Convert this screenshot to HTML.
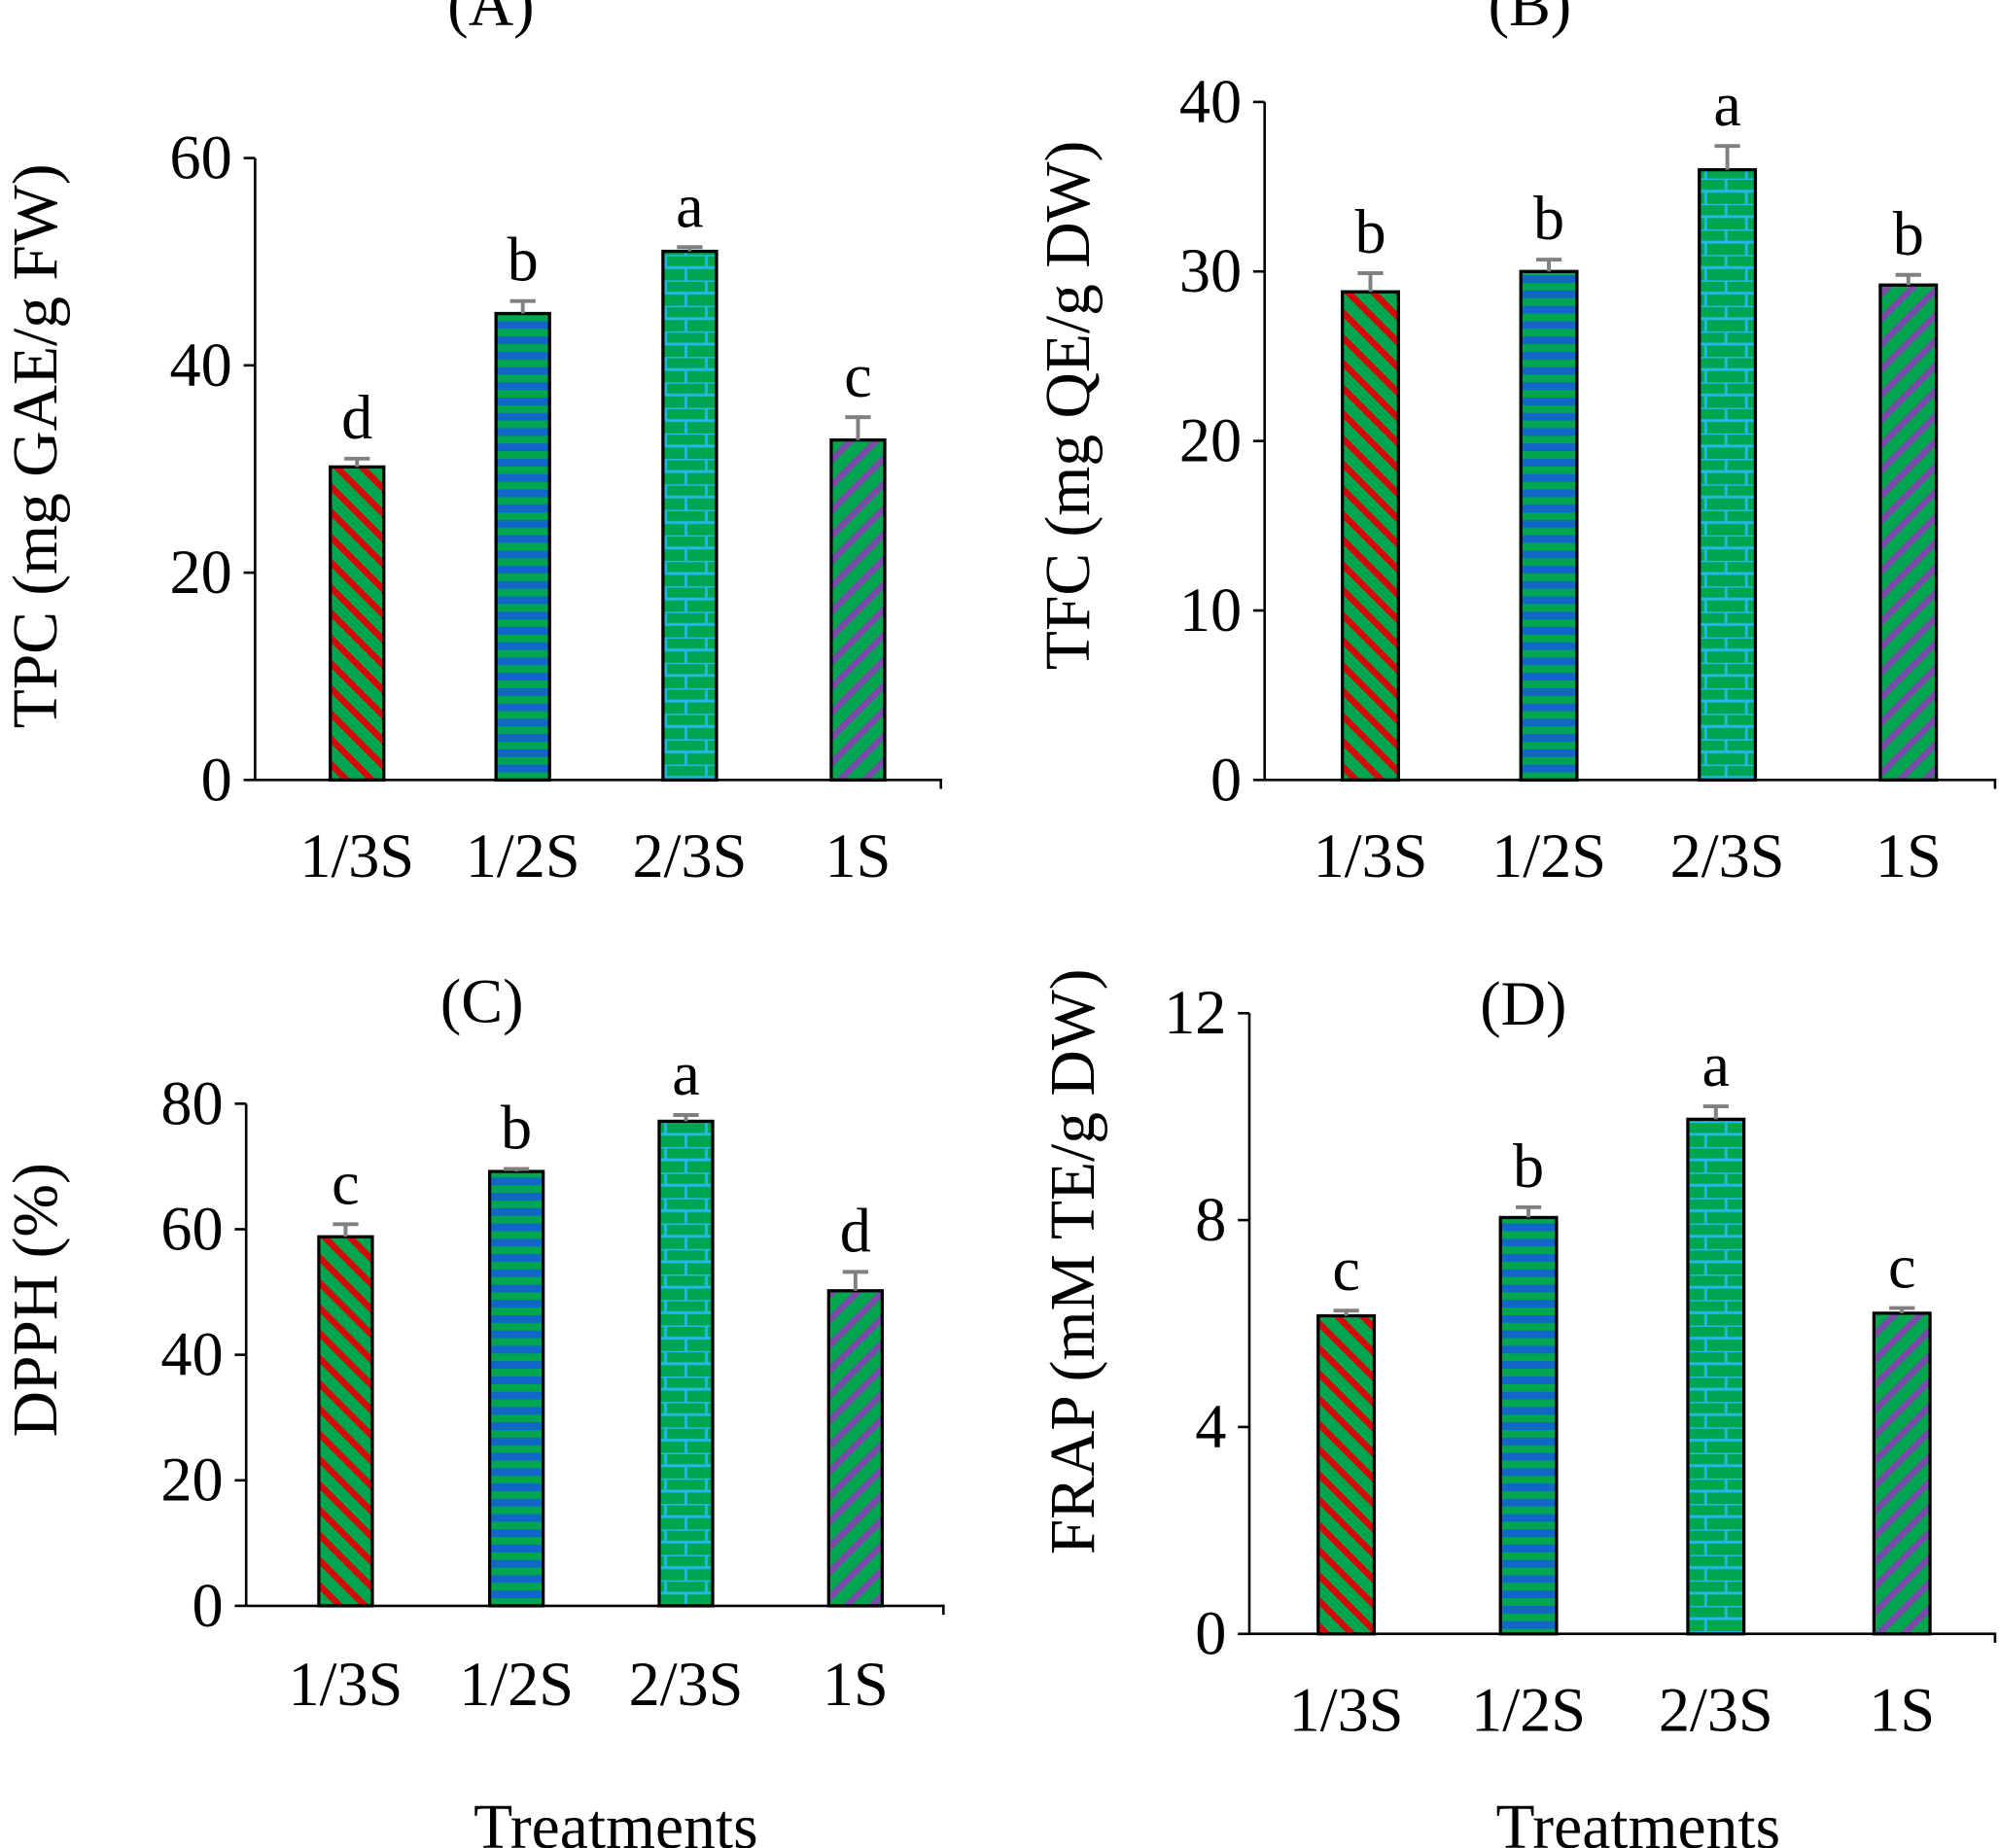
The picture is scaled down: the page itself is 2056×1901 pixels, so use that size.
<!DOCTYPE html>
<html><head><meta charset="utf-8"><style>html,body{margin:0;padding:0;background:#fff}svg{display:block}text{font-family:"Liberation Serif",serif;fill:#000}</style></head>
<body>
<svg id="fig" width="2056" height="1901" viewBox="0 0 1568 1450" xmlns="http://www.w3.org/2000/svg">
<defs>
<pattern id="pRed" patternUnits="userSpaceOnUse" width="14" height="14" patternTransform="rotate(45)"><rect width="14" height="14" fill="#00a64f"/><rect width="14" height="5" fill="#d40a0a"/></pattern>
<pattern id="pBlue" patternUnits="userSpaceOnUse" width="12" height="12"><rect width="12" height="12" fill="#00a64f"/><rect y="0" width="12" height="6" fill="#1166c8"/></pattern>
<pattern id="pBrick" patternUnits="userSpaceOnUse" width="32" height="20"><rect width="32" height="20" fill="#00a64f"/><path d="M0 0H32M0 10H32M10 0V10M26 10V20" stroke="#22b8e8" stroke-width="2.2"/></pattern>
<pattern id="pPurple" patternUnits="userSpaceOnUse" width="14" height="14" patternTransform="rotate(-45)"><rect width="14" height="14" fill="#00a64f"/><rect width="14" height="5" fill="#7a4aa8"/></pattern>
</defs>
</svg>
<script>
const categories = ["1/3S","1/2S","2/3S","1S"];
const tpcValues = [30.2, 45.0, 51.0, 32.8];
const tpcErrors = [0.8, 1.2, 0.4, 2.2];
const tpcLetters = ["d","b","a","c"];
const tpcTicks = [0,20,40,60];
const tfcValues = [28.8, 30.0, 36.0, 29.2];
const tfcErrors = [1.1, 0.7, 1.4, 0.6];
const tfcLetters = ["b","b","a","b"];
const tfcTicks = [0,10,20,30,40];
const dpphValues = [58.8, 69.2, 77.2, 50.2];
const dpphErrors = [2.0, 0.4, 1.0, 3.0];
const dpphLetters = ["c","b","a","d"];
const dpphTicks = [0,20,40,60,80];
const frapValues = [6.15, 8.05, 9.95, 6.2];
const frapErrors = [0.1, 0.2, 0.25, 0.1];
const frapLetters = ["c","b","a","c"];
const frapTicks = [0,4,8,12];

const NS="http://www.w3.org/2000/svg";
const svg=document.getElementById('fig');
const fills=["url(#pRed)","url(#pBlue)","url(#pBrick)","url(#pPurple)"];
function mk(tag,attrs,parent){const e=document.createElementNS(NS,tag);for(const k in attrs)e.setAttribute(k,attrs[k]);(parent||svg).appendChild(e);return e;}

function panel(o){
  const g=mk('g',{});
  
  
  const ymax=o.ticks[o.ticks.length-1];
  const y=v=>o.y0-(v/ymax)*(o.y0-o.ytop);
  const ax=mk('path',{d:`M${o.ax} ${o.y0}V${o.ytop}M${o.ax} ${o.y0}H${o.xend}V${o.y0+7}`,stroke:'#000','stroke-width':2,fill:'none'},g);
  
  
  o.ticks.forEach(t=>{
    const tk=mk('line',{x1:o.ax-9,x2:o.ax,y1:y(t),y2:y(t),stroke:'#000','stroke-width':2},g);
    
    
    const tl=mk('text',{x:o.ax-18,y:y(t)+16,'text-anchor':'end','font-size':49},g);
    tl.textContent=t;
    
    
  });
  o.values.forEach((v,i)=>{
    const cx=o.cx[i], w=o.bw;
    const top=y(v), et=y(v+o.err[i]);
    const b=mk('rect',{x:cx-w/2,y:top,width:w,height:o.y0-top,fill:fills[i],stroke:'#000','stroke-width':2.5},g);
    
    
    const e=mk('path',{d:`M${cx} ${top}V${et}M${cx-10} ${et}H${cx+10}`,stroke:'#808080','stroke-width':3,fill:'none'},g);
    
    
    const l=mk('text',{x:cx,y:et-16,'text-anchor':'middle','font-size':49},g);
    l.textContent=o.letters[i];
    
    
    const c=mk('text',{x:cx,y:o.catY,'text-anchor':'middle','font-size':49},g);
    c.textContent=categories[i];
    
    
  });
  const t=mk('text',{x:o.tx,y:o.ty,'text-anchor':'middle','font-size':49},g);
  t.textContent=o.title;
  
  
  const yt=mk('text',{x:0,y:0,'text-anchor':'middle','font-size':50,transform:`translate(${o.ytx},${o.yty}) rotate(-90)`},g);
  yt.textContent=o.ytitle;
  
  
}

panel({id:'tpc',ax:200,y0:612,ytop:124,xend:738,cx:[280,410,541,673],bw:42,values:tpcValues,err:tpcErrors,letters:tpcLetters,ticks:tpcTicks,catY:688,title:'(A)',tx:385,ty:20,ytitle:'TPC (mg GAE/g FW)',ytx:44,yty:350});
panel({id:'tfc',ax:992,y0:612,ytop:80,xend:1565,cx:[1075,1215,1355,1497],bw:44,values:tfcValues,err:tfcErrors,letters:tfcLetters,ticks:tfcTicks,catY:688,title:'(B)',tx:1200,ty:20,ytitle:'TFC (mg QE/g DW)',ytx:854,yty:318});
panel({id:'dpph',ax:193,y0:1260,ytop:866,xend:740,cx:[271,405,538,671],bw:42,values:dpphValues,err:dpphErrors,letters:dpphLetters,ticks:dpphTicks,catY:1338,title:'(C)',tx:378,ty:802,ytitle:'DPPH (%)',ytx:44,yty:1020});
panel({id:'frap',ax:980,y0:1282,ytop:795,xend:1565,cx:[1056,1199,1346,1492],bw:44,values:frapValues,err:frapErrors,letters:frapLetters,ticks:frapTicks,catY:1358,title:'(D)',tx:1195,ty:804,ytitle:'FRAP (mM TE/g DW)',ytx:858,yty:990});

[[483,'treatments-label-left'],[1285,'treatments-label-right']].forEach(([x,n])=>{
  const t=mk('text',{x:x,y:1450,'text-anchor':'middle','font-size':50});
  t.textContent='Treatments';
  
  
});
</script>
</body></html>
